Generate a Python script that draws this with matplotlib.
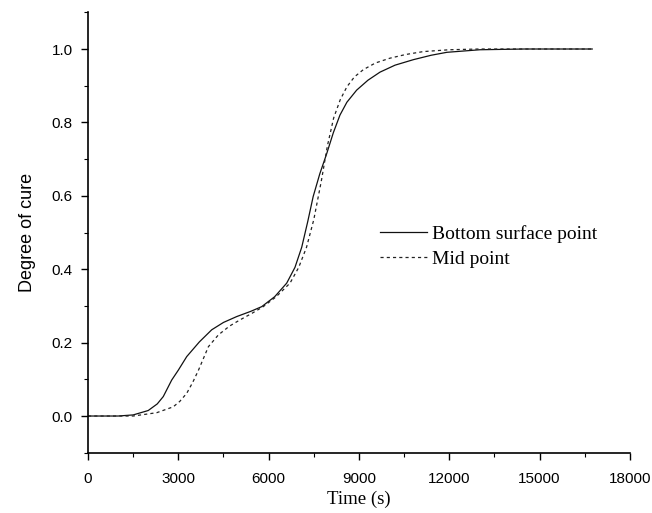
import matplotlib
matplotlib.use("Agg")
import matplotlib.pyplot as plt
from matplotlib.ticker import MultipleLocator

# Bottom surface point (solid)
t_bottom = [0, 1000, 1500, 2000, 2300, 2500, 2780, 3000, 3280, 3700, 4110, 4500,
            4940, 5400, 5770, 6200, 6600, 6875, 7100, 7300, 7480, 7700, 7930, 8150,
            8370, 8600, 8925, 9300, 9700, 10200, 10810, 11400, 11920, 13020, 14500, 16750]
v_bottom = [0, 0, 0.003, 0.015, 0.033, 0.053, 0.098, 0.125, 0.162, 0.202, 0.235, 0.255,
            0.271, 0.285, 0.298, 0.325, 0.362, 0.405, 0.460, 0.530, 0.598, 0.660, 0.715, 0.772,
            0.820, 0.855, 0.888, 0.915, 0.937, 0.956, 0.971, 0.983, 0.991, 0.998, 1.0, 1.0]

# Mid point (dashed)
t_mid = [0, 1500, 2280, 2830, 3050, 3280, 3480, 3670, 3850, 4000, 4330, 4700, 5050,
         5450, 5820, 6250, 6710, 7000, 7260, 7500, 7750, 7950, 8160, 8380, 8600, 8850,
         9150, 9550, 10030, 10550, 11140, 12000, 13000, 14500, 16750]
v_mid = [0, 0, 0.009, 0.025, 0.040, 0.062, 0.092, 0.125, 0.160, 0.189, 0.221, 0.245, 0.262,
         0.280, 0.298, 0.325, 0.362, 0.405, 0.460, 0.535, 0.640, 0.735, 0.812, 0.862, 0.897, 0.924,
         0.944, 0.962, 0.975, 0.985, 0.993, 0.998, 1.0, 1.0, 1.0]

labels = ["Bottom surface point", "Mid point"]
x_ticks = [0, 3000, 6000, 9000, 12000, 15000, 18000]
y_ticks = [0.0, 0.2, 0.4, 0.6, 0.8, 1.0]

fig = plt.figure(figsize=(6.52, 5.13), dpi=100)
ax = fig.add_axes([0.135, 0.1175, 0.831, 0.8585])

ax.plot(t_bottom, v_bottom, color="#111111", lw=0.9, ls="-", label=labels[0])
ax.plot(t_mid, v_mid, color="#222222", lw=0.9, ls=(0, (2.5, 2.5)), label=labels[1])

ax.set_xlim(0, 18000)
ax.set_ylim(-0.1, 1.1)
ax.set_xticks(x_ticks)
ax.set_xticklabels([str(v) for v in x_ticks])
ax.set_yticks(y_ticks)
ax.set_yticklabels([f"{v:.1f}" for v in y_ticks])
ax.xaxis.set_minor_locator(MultipleLocator(1500))
ax.yaxis.set_minor_locator(MultipleLocator(0.1))

for s in ["top", "right"]:
    ax.spines[s].set_visible(False)
for s in ["left", "bottom"]:
    ax.spines[s].set_linewidth(1.2)

ax.tick_params(axis="both", which="major", direction="out", length=5, width=1.0,
               labelsize=11, labelfontfamily="Liberation Sans")
ax.tick_params(axis="both", which="minor", direction="out", length=3, width=0.8)
ax.tick_params(axis="x", which="major", pad=9)
ax.tick_params(axis="y", which="major", pad=6)

ax.set_xlabel("Time (s)", fontfamily="Liberation Serif", fontsize=13.5, labelpad=3)
ax.set_ylabel("Degree of cure", fontfamily="Liberation Sans", fontsize=13, labelpad=11)

leg = ax.legend(loc="upper left", bbox_to_anchor=(0.524, 0.535), frameon=False,
                prop={"family": "Liberation Serif", "size": 14},
                handlelength=2.45, handletextpad=0.25, labelspacing=0.4, borderaxespad=0)

fig.savefig("out.png", dpi=100)
